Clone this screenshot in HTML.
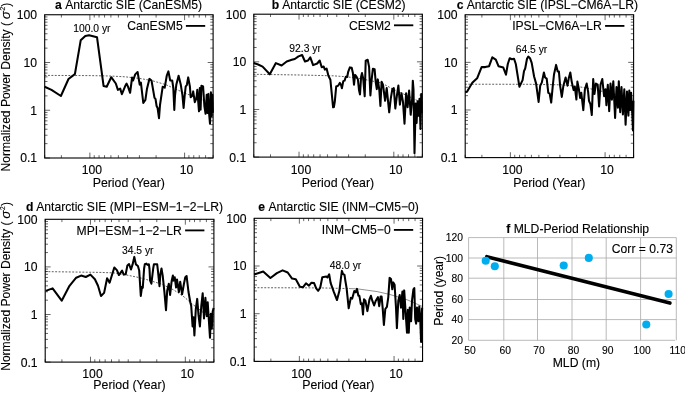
<!DOCTYPE html><html><head><meta charset="utf-8"><title>Figure</title><style>html,body{margin:0;padding:0;background:#fff}svg{display:block;will-change:transform}text{font-family:'Liberation Sans',sans-serif;fill:#000;stroke:#000;stroke-width:0.12px}</style></head><body>
<svg width="685" height="393" viewBox="0 0 685 393">
<rect width="685" height="393" fill="#fff"/>
<g>
<path d="M44.70 158.00h5.4 M213.10 158.00h-5.4 M44.70 143.63h2.8 M213.10 143.63h-2.8 M44.70 135.22h2.8 M213.10 135.22h-2.8 M44.70 129.25h2.8 M213.10 129.25h-2.8 M44.70 124.62h2.8 M213.10 124.62h-2.8 M44.70 120.84h2.8 M213.10 120.84h-2.8 M44.70 117.65h2.8 M213.10 117.65h-2.8 M44.70 114.88h2.8 M213.10 114.88h-2.8 M44.70 112.43h2.8 M213.10 112.43h-2.8 M44.70 110.25h5.4 M213.10 110.25h-5.4 M44.70 95.88h2.8 M213.10 95.88h-2.8 M44.70 87.47h2.8 M213.10 87.47h-2.8 M44.70 81.50h2.8 M213.10 81.50h-2.8 M44.70 76.87h2.8 M213.10 76.87h-2.8 M44.70 73.09h2.8 M213.10 73.09h-2.8 M44.70 69.90h2.8 M213.10 69.90h-2.8 M44.70 67.13h2.8 M213.10 67.13h-2.8 M44.70 64.68h2.8 M213.10 64.68h-2.8 M44.70 62.50h5.4 M213.10 62.50h-5.4 M44.70 48.13h2.8 M213.10 48.13h-2.8 M44.70 39.72h2.8 M213.10 39.72h-2.8 M44.70 33.75h2.8 M213.10 33.75h-2.8 M44.70 29.12h2.8 M213.10 29.12h-2.8 M44.70 25.34h2.8 M213.10 25.34h-2.8 M44.70 22.15h2.8 M213.10 22.15h-2.8 M44.70 19.38h2.8 M213.10 19.38h-2.8 M44.70 16.93h2.8 M213.10 16.93h-2.8 M213.10 158.00v-2.8 M213.10 14.75v2.8 M205.60 158.00v-2.8 M205.60 14.75v2.8 M199.26 158.00v-2.8 M199.26 14.75v2.8 M193.77 158.00v-2.8 M193.77 14.75v2.8 M188.92 158.00v-2.8 M188.92 14.75v2.8 M184.59 158.00v-5.4 M184.59 14.75v5.4 M156.08 158.00v-2.8 M156.08 14.75v2.8 M139.41 158.00v-2.8 M139.41 14.75v2.8 M127.57 158.00v-2.8 M127.57 14.75v2.8 M118.39 158.00v-2.8 M118.39 14.75v2.8 M110.90 158.00v-2.8 M110.90 14.75v2.8 M104.56 158.00v-2.8 M104.56 14.75v2.8 M99.06 158.00v-2.8 M99.06 14.75v2.8 M94.22 158.00v-2.8 M94.22 14.75v2.8 M89.89 158.00v-5.4 M89.89 14.75v5.4 M61.38 158.00v-2.8 M61.38 14.75v2.8 M44.70 158.00v-2.8 M44.70 14.75v2.8" stroke="#000" stroke-width="0.6" fill="none"/>
<path d="M44.6 75.4 L90.0 75.6 L110.0 76.0 L125.0 76.8 L140.0 78.5 L151.5 80.5 L165.7 84.6 L184.0 92.8 L200.0 99.0 L213.6 104.0" stroke="#2a2a2a" stroke-width="0.75" stroke-dasharray="1.9,1.5" fill="none"/>
<path d="M44.6 86.8 L51.5 89.9 L60.9 96.0 L68.5 79.0 L74.9 74.1 L80.7 40.3 L85.3 35.9 L89.1 35.2 L97.0 37.2 L103.6 86.1 L106.7 86.8 L111.2 77.2 L115.8 83.5 L117.9 89.9 L120.2 88.6 L121.9 94.2 L125.2 86.1 L126.6 83.6 L128.0 86.7 L130.1 92.8 L132.1 77.5 L133.1 80.5 L135.2 74.4 L137.6 72.0 L139.7 84.6 L140.9 82.6 L143.3 103.0 L145.4 99.9 L147.0 88.7 L149.4 78.9 L151.5 80.5 L154.5 97.9 L155.5 98.9 L156.6 106.0 L157.6 108.0 L159.0 118.2 L160.0 105.0 L162.7 86.7 L164.7 87.7 L166.8 75.5 L168.4 71.4 L170.2 80.5 L172.2 80.5 L173.3 87.7 L174.3 110.0 L175.0 95.6 L176.3 84.8 L178.6 75.7 L180.8 84.8 L182.4 94.8 L183.6 108.0 L184.6 96.4 L185.7 86.5 L186.9 84.8 L188.2 77.4 L189.9 86.5 L190.7 97.2 L192.4 95.6 L193.2 91.4 L194.8 102.2 L196.5 98.1 L197.3 89.8 L199.0 111.3 L199.8 88.1 L200.6 109.6 L201.4 85.7 L203.1 86.5 L204.4 106.3 L205.6 113.8 L206.7 94.8 L207.6 112.9 L208.4 93.9 L209.2 114.6 L210.0 123.7 L210.9 92.3 L211.7 116.2 L212.4 94.8 L212.9 112.9" stroke="#000" stroke-width="2.05" stroke-linejoin="round" stroke-linecap="butt" fill="none"/>
<rect x="44.70" y="14.75" width="168.40" height="143.25" fill="none" stroke="#000" stroke-width="1.1"/>
<text x="37.1" y="19.1" font-size="12.2" text-anchor="end">100</text>
<text x="37.1" y="66.9" font-size="12.2" text-anchor="end">10</text>
<text x="37.1" y="114.7" font-size="12.2" text-anchor="end">1</text>
<text x="37.1" y="162.4" font-size="12.2" text-anchor="end">0.1</text>
<text x="91.9" y="174.2" font-size="12.2" text-anchor="middle">100</text>
<text x="186.6" y="174.2" font-size="12.2" text-anchor="middle">10</text>
<text x="128.8" y="187.1" font-size="12.35" text-anchor="middle">Period (Year)</text>
<text x="55.0" y="8.6" font-size="12.15" font-weight="bold">a</text>
<text x="65.2" y="8.6" font-size="12.15">Antarctic SIE (CanESM5)</text>
<text x="182.7" y="30.1" font-size="12.15" text-anchor="end">CanESM5</text>
<path d="M185.9 25.9h19.3" stroke="#000" stroke-width="1.85"/>
<text x="91.9" y="32.4" font-size="10.3" text-anchor="middle">100.0 yr</text>
<path d="M253.80 157.10h5.4 M422.35 157.10h-5.4 M253.80 142.76h2.8 M422.35 142.76h-2.8 M253.80 134.37h2.8 M422.35 134.37h-2.8 M253.80 128.42h2.8 M422.35 128.42h-2.8 M253.80 123.81h2.8 M422.35 123.81h-2.8 M253.80 120.03h2.8 M422.35 120.03h-2.8 M253.80 116.85h2.8 M422.35 116.85h-2.8 M253.80 114.08h2.8 M422.35 114.08h-2.8 M253.80 111.65h2.8 M422.35 111.65h-2.8 M253.80 109.47h5.4 M422.35 109.47h-5.4 M253.80 95.13h2.8 M422.35 95.13h-2.8 M253.80 86.74h2.8 M422.35 86.74h-2.8 M253.80 80.79h2.8 M422.35 80.79h-2.8 M253.80 76.17h2.8 M422.35 76.17h-2.8 M253.80 72.40h2.8 M422.35 72.40h-2.8 M253.80 69.21h2.8 M422.35 69.21h-2.8 M253.80 66.45h2.8 M422.35 66.45h-2.8 M253.80 64.01h2.8 M422.35 64.01h-2.8 M253.80 61.83h5.4 M422.35 61.83h-5.4 M253.80 47.49h2.8 M422.35 47.49h-2.8 M253.80 39.11h2.8 M422.35 39.11h-2.8 M253.80 33.16h2.8 M422.35 33.16h-2.8 M253.80 28.54h2.8 M422.35 28.54h-2.8 M253.80 24.77h2.8 M422.35 24.77h-2.8 M253.80 21.58h2.8 M422.35 21.58h-2.8 M253.80 18.82h2.8 M422.35 18.82h-2.8 M253.80 16.38h2.8 M422.35 16.38h-2.8 M422.35 157.10v-2.8 M422.35 14.20v2.8 M414.84 157.10v-2.8 M414.84 14.20v2.8 M408.50 157.10v-2.8 M408.50 14.20v2.8 M403.00 157.10v-2.8 M403.00 14.20v2.8 M398.15 157.10v-2.8 M398.15 14.20v2.8 M393.82 157.10v-5.4 M393.82 14.20v5.4 M365.28 157.10v-2.8 M365.28 14.20v2.8 M348.59 157.10v-2.8 M348.59 14.20v2.8 M336.75 157.10v-2.8 M336.75 14.20v2.8 M327.56 157.10v-2.8 M327.56 14.20v2.8 M320.05 157.10v-2.8 M320.05 14.20v2.8 M313.71 157.10v-2.8 M313.71 14.20v2.8 M308.21 157.10v-2.8 M308.21 14.20v2.8 M303.36 157.10v-2.8 M303.36 14.20v2.8 M299.03 157.10v-5.4 M299.03 14.20v5.4 M270.49 157.10v-2.8 M270.49 14.20v2.8 M253.80 157.10v-2.8 M253.80 14.20v2.8" stroke="#000" stroke-width="0.6" fill="none"/>
<path d="M253.5 74.3 L300.0 75.0 L333.0 75.8 L345.5 76.7 L360.0 78.5 L381.6 83.0 L393.3 89.3 L410.0 97.0 L422.4 103.0" stroke="#2a2a2a" stroke-width="0.75" stroke-dasharray="1.9,1.5" fill="none"/>
<path d="M253.7 62.9 L258.1 64.5 L262.6 66.6 L269.8 74.3 L275.9 63.1 L281.6 65.5 L286.7 61.5 L291.8 59.8 L294.8 59.0 L298.5 56.4 L302.1 55.0 L305.0 61.5 L308.0 60.5 L310.3 57.4 L313.1 65.1 L317.2 63.5 L319.7 60.5 L321.7 67.2 L323.7 66.6 L324.9 69.6 L326.6 68.6 L328.4 75.7 L330.4 79.8 L333.1 107.3 L333.9 107.0 L334.8 101.6 L336.2 86.5 L338.3 85.6 L339.8 82.9 L341.0 84.7 L341.9 88.3 L343.3 81.1 L344.6 80.6 L345.8 76.7 L347.2 77.0 L348.1 72.2 L349.9 67.4 L351.7 67.8 L352.9 73.1 L354.0 84.7 L355.1 74.9 L356.5 76.7 L357.9 79.4 L359.0 90.0 L360.0 94.5 L361.1 76.7 L362.0 73.1 L363.2 78.5 L364.7 96.3 L365.7 60.7 L367.7 59.8 L369.1 66.9 L370.4 95.4 L371.6 80.2 L372.9 68.7 L374.6 69.2 L375.7 82.0 L376.8 89.1 L377.8 79.4 L379.3 90.0 L380.4 105.9 L381.6 81.7 L383.1 85.5 L385.1 100.8 L386.7 88.1 L389.2 112.3 L390.8 98.3 L392.3 89.3 L393.8 88.1 L395.3 108.5 L396.9 95.7 L398.4 85.5 L399.9 104.6 L401.5 93.2 L403.0 102.1 L404.5 123.8 L406.1 93.2 L407.6 107.2 L409.1 90.6 L410.7 114.8 L412.2 98.3 L412.8 80.7 L413.5 89.2 L414.5 153.2 L415.7 103.6 L416.6 123.0 L417.6 101.2 L418.6 115.7 L419.5 98.8 L420.5 129.0 L421.2 94.0 L421.8 113.3" stroke="#000" stroke-width="2.05" stroke-linejoin="round" stroke-linecap="butt" fill="none"/>
<rect x="253.80" y="14.20" width="168.55" height="142.90" fill="none" stroke="#000" stroke-width="1.1"/>
<text x="246.2" y="18.6" font-size="12.2" text-anchor="end">100</text>
<text x="246.2" y="66.2" font-size="12.2" text-anchor="end">10</text>
<text x="246.2" y="113.9" font-size="12.2" text-anchor="end">1</text>
<text x="246.2" y="161.5" font-size="12.2" text-anchor="end">0.1</text>
<text x="301.0" y="174.2" font-size="12.2" text-anchor="middle">100</text>
<text x="395.8" y="174.2" font-size="12.2" text-anchor="middle">10</text>
<text x="338.0" y="187.1" font-size="12.35" text-anchor="middle">Period (Year)</text>
<text x="271.7" y="9.0" font-size="12.15" font-weight="bold">b</text>
<text x="282.2" y="9.0" font-size="12.15">Antarctic SIE (CESM2)</text>
<text x="390.8" y="29.5" font-size="12.15" text-anchor="end">CESM2</text>
<path d="M394.0 25.3h19.3" stroke="#000" stroke-width="1.85"/>
<text x="305.1" y="51.7" font-size="10.3" text-anchor="middle">92.3 yr</text>
<path d="M465.20 157.60h5.4 M633.60 157.60h-5.4 M465.20 143.27h2.8 M633.60 143.27h-2.8 M465.20 134.88h2.8 M633.60 134.88h-2.8 M465.20 128.93h2.8 M633.60 128.93h-2.8 M465.20 124.32h2.8 M633.60 124.32h-2.8 M465.20 120.55h2.8 M633.60 120.55h-2.8 M465.20 117.36h2.8 M633.60 117.36h-2.8 M465.20 114.60h2.8 M633.60 114.60h-2.8 M465.20 112.16h2.8 M633.60 112.16h-2.8 M465.20 109.98h5.4 M633.60 109.98h-5.4 M465.20 95.65h2.8 M633.60 95.65h-2.8 M465.20 87.26h2.8 M633.60 87.26h-2.8 M465.20 81.32h2.8 M633.60 81.32h-2.8 M465.20 76.70h2.8 M633.60 76.70h-2.8 M465.20 72.93h2.8 M633.60 72.93h-2.8 M465.20 69.74h2.8 M633.60 69.74h-2.8 M465.20 66.98h2.8 M633.60 66.98h-2.8 M465.20 64.55h2.8 M633.60 64.55h-2.8 M465.20 62.37h5.4 M633.60 62.37h-5.4 M465.20 48.03h2.8 M633.60 48.03h-2.8 M465.20 39.65h2.8 M633.60 39.65h-2.8 M465.20 33.70h2.8 M633.60 33.70h-2.8 M465.20 29.08h2.8 M633.60 29.08h-2.8 M465.20 25.31h2.8 M633.60 25.31h-2.8 M465.20 22.13h2.8 M633.60 22.13h-2.8 M465.20 19.36h2.8 M633.60 19.36h-2.8 M465.20 16.93h2.8 M633.60 16.93h-2.8 M633.60 157.60v-2.8 M633.60 14.75v2.8 M626.10 157.60v-2.8 M626.10 14.75v2.8 M619.76 157.60v-2.8 M619.76 14.75v2.8 M614.27 157.60v-2.8 M614.27 14.75v2.8 M609.42 157.60v-2.8 M609.42 14.75v2.8 M605.09 157.60v-5.4 M605.09 14.75v5.4 M576.58 157.60v-2.8 M576.58 14.75v2.8 M559.91 157.60v-2.8 M559.91 14.75v2.8 M548.07 157.60v-2.8 M548.07 14.75v2.8 M538.89 157.60v-2.8 M538.89 14.75v2.8 M531.40 157.60v-2.8 M531.40 14.75v2.8 M525.06 157.60v-2.8 M525.06 14.75v2.8 M519.56 157.60v-2.8 M519.56 14.75v2.8 M514.72 157.60v-2.8 M514.72 14.75v2.8 M510.39 157.60v-5.4 M510.39 14.75v5.4 M481.88 157.60v-2.8 M481.88 14.75v2.8 M465.20 157.60v-2.8 M465.20 14.75v2.8" stroke="#000" stroke-width="0.6" fill="none"/>
<path d="M465.0 84.2 L530.0 84.3 L560.0 84.8 L575.0 86.0 L590.9 88.9 L610.0 93.0 L633.6 99.0" stroke="#2a2a2a" stroke-width="0.75" stroke-dasharray="1.9,1.5" fill="none"/>
<path d="M465.2 92.2 L467.0 91.7 L472.3 82.7 L477.1 78.3 L481.6 67.1 L485.2 67.1 L489.1 66.2 L492.3 57.3 L495.8 59.6 L498.5 66.2 L503.3 67.6 L506.0 74.7 L507.8 64.0 L509.7 58.2 L511.9 59.2 L514.0 58.7 L515.8 64.0 L519.4 86.7 L522.6 80.1 L524.0 71.2 L525.2 68.5 L527.0 58.7 L528.3 56.6 L530.0 58.2 L531.7 62.9 L534.1 76.5 L536.1 83.6 L538.6 101.9 L540.2 85.7 L541.8 82.6 L543.9 72.5 L545.1 77.5 L546.7 78.6 L548.3 92.8 L549.6 93.4 L551.2 102.6 L552.8 85.7 L554.0 74.5 L556.1 64.9 L557.7 71.4 L558.9 71.4 L560.1 85.7 L561.8 96.9 L563.4 85.7 L565.6 77.5 L567.5 85.7 L568.7 78.6 L570.3 72.5 L571.7 81.6 L573.6 90.1 L574.8 86.7 L576.4 99.5 L577.4 81.6 L578.8 88.7 L580.1 97.9 L581.3 92.8 L583.3 110.1 L584.9 89.3 L586.7 83.6 L588.1 91.6 L589.0 100.8 L590.4 104.2 L591.8 115.0 L593.2 79.0 L594.5 93.9 L595.9 83.6 L597.7 84.7 L599.1 106.5 L600.5 84.7 L602.3 79.0 L604.1 96.2 L605.5 89.3 L606.4 105.3 L607.8 84.7 L609.2 111.1 L610.5 83.6 L611.9 99.6 L613.3 81.3 L615.1 117.9 L616.5 87.0 L617.9 107.6 L618.8 81.3 L620.2 112.2 L621.5 87.0 L622.9 114.5 L624.3 89.3 L625.6 124.8 L627.0 91.6 L628.4 115.6 L629.3 90.5 L630.2 109.9 L631.1 92.8 L632.1 109.9 L633.0 130.5 L633.4 100.8" stroke="#000" stroke-width="2.05" stroke-linejoin="round" stroke-linecap="butt" fill="none"/>
<rect x="465.20" y="14.75" width="168.40" height="142.85" fill="none" stroke="#000" stroke-width="1.1"/>
<text x="457.6" y="19.1" font-size="12.2" text-anchor="end">100</text>
<text x="457.6" y="66.8" font-size="12.2" text-anchor="end">10</text>
<text x="457.6" y="114.4" font-size="12.2" text-anchor="end">1</text>
<text x="457.6" y="162.0" font-size="12.2" text-anchor="end">0.1</text>
<text x="512.4" y="174.2" font-size="12.2" text-anchor="middle">100</text>
<text x="607.1" y="174.2" font-size="12.2" text-anchor="middle">10</text>
<text x="549.3" y="187.1" font-size="12.35" text-anchor="middle">Period (Year)</text>
<text x="456.7" y="8.6" font-size="12.15" font-weight="bold">c</text>
<text x="466.7" y="8.6" font-size="12.15">Antarctic SIE (IPSL−CM6A−LR)</text>
<text x="601.9" y="30.1" font-size="12.15" text-anchor="end">IPSL−CM6A−LR</text>
<path d="M605.1 25.9h19.3" stroke="#000" stroke-width="1.85"/>
<text x="531.5" y="53.2" font-size="10.3" text-anchor="middle">64.5 yr</text>
<path d="M45.20 362.10h5.4 M213.90 362.10h-5.4 M45.20 347.77h2.8 M213.90 347.77h-2.8 M45.20 339.39h2.8 M213.90 339.39h-2.8 M45.20 333.44h2.8 M213.90 333.44h-2.8 M45.20 328.83h2.8 M213.90 328.83h-2.8 M45.20 325.06h2.8 M213.90 325.06h-2.8 M45.20 321.87h2.8 M213.90 321.87h-2.8 M45.20 319.11h2.8 M213.90 319.11h-2.8 M45.20 316.68h2.8 M213.90 316.68h-2.8 M45.20 314.50h5.4 M213.90 314.50h-5.4 M45.20 300.17h2.8 M213.90 300.17h-2.8 M45.20 291.79h2.8 M213.90 291.79h-2.8 M45.20 285.84h2.8 M213.90 285.84h-2.8 M45.20 281.23h2.8 M213.90 281.23h-2.8 M45.20 277.46h2.8 M213.90 277.46h-2.8 M45.20 274.27h2.8 M213.90 274.27h-2.8 M45.20 271.51h2.8 M213.90 271.51h-2.8 M45.20 269.08h2.8 M213.90 269.08h-2.8 M45.20 266.90h5.4 M213.90 266.90h-5.4 M45.20 252.57h2.8 M213.90 252.57h-2.8 M45.20 244.19h2.8 M213.90 244.19h-2.8 M45.20 238.24h2.8 M213.90 238.24h-2.8 M45.20 233.63h2.8 M213.90 233.63h-2.8 M45.20 229.86h2.8 M213.90 229.86h-2.8 M45.20 226.67h2.8 M213.90 226.67h-2.8 M45.20 223.91h2.8 M213.90 223.91h-2.8 M45.20 221.48h2.8 M213.90 221.48h-2.8 M213.90 362.10v-2.8 M213.90 219.30v2.8 M206.39 362.10v-2.8 M206.39 219.30v2.8 M200.04 362.10v-2.8 M200.04 219.30v2.8 M194.53 362.10v-2.8 M194.53 219.30v2.8 M189.68 362.10v-2.8 M189.68 219.30v2.8 M185.34 362.10v-5.4 M185.34 219.30v5.4 M156.78 362.10v-2.8 M156.78 219.30v2.8 M140.07 362.10v-2.8 M140.07 219.30v2.8 M128.22 362.10v-2.8 M128.22 219.30v2.8 M119.03 362.10v-2.8 M119.03 219.30v2.8 M111.51 362.10v-2.8 M111.51 219.30v2.8 M105.16 362.10v-2.8 M105.16 219.30v2.8 M99.66 362.10v-2.8 M99.66 219.30v2.8 M94.81 362.10v-2.8 M94.81 219.30v2.8 M90.47 362.10v-5.4 M90.47 219.30v5.4 M61.91 362.10v-2.8 M61.91 219.30v2.8 M45.20 362.10v-2.8 M45.20 219.30v2.8" stroke="#000" stroke-width="0.6" fill="none"/>
<path d="M45.0 271.6 L100.0 272.4 L114.0 272.9 L126.0 274.9 L138.3 277.4 L144.7 279.0 L161.2 284.0 L172.0 289.0 L177.8 292.5 L185.0 297.6 L190.3 302.5 L200.0 310.0 L213.8 321.0" stroke="#2a2a2a" stroke-width="0.75" stroke-dasharray="1.9,1.5" fill="none"/>
<path d="M45.7 290.9 L52.6 288.4 L61.7 300.7 L69.5 285.8 L76.2 277.7 L81.1 275.6 L85.8 277.0 L90.4 274.6 L94.9 279.3 L98.0 285.8 L101.0 296.0 L104.1 292.9 L107.1 278.3 L109.6 282.7 L114.3 267.5 L116.9 270.1 L118.9 275.0 L120.0 273.6 L122.1 270.5 L123.7 274.6 L125.7 274.2 L127.4 265.4 L129.0 264.0 L131.0 269.5 L132.6 264.4 L134.3 256.9 L135.9 264.4 L137.9 266.0 L139.2 270.5 L140.8 295.9 L142.0 286.8 L142.8 287.8 L144.1 268.5 L144.8 264.3 L146.4 263.6 L147.5 264.9 L148.9 264.3 L149.5 269.0 L150.1 280.7 L151.4 283.7 L153.2 268.5 L153.9 264.3 L157.2 264.3 L157.9 270.5 L159.5 286.2 L160.3 274.6 L161.5 268.5 L162.7 275.6 L164.4 291.9 L166.0 310.2 L167.2 290.8 L168.8 283.7 L170.1 294.9 L171.7 280.7 L172.9 275.6 L173.4 280.6 L174.7 277.2 L176.1 287.5 L177.0 279.5 L178.9 292.0 L180.2 281.7 L182.1 294.3 L183.9 284.0 L185.3 277.2 L186.6 276.0 L188.5 292.0 L190.3 302.3 L191.2 305.8 L192.6 326.4 L193.5 317.2 L194.4 335.5 L195.8 309.2 L197.2 298.9 L198.5 314.9 L199.9 326.4 L201.3 305.8 L202.7 293.2 L204.0 318.4 L205.4 297.8 L206.8 316.1 L207.7 302.3 L208.6 316.1 L210.0 337.8 L210.9 313.8 L211.8 328.6 L212.7 311.5 L213.6 308.0" stroke="#000" stroke-width="2.05" stroke-linejoin="round" stroke-linecap="butt" fill="none"/>
<rect x="45.20" y="219.30" width="168.70" height="142.80" fill="none" stroke="#000" stroke-width="1.1"/>
<text x="37.6" y="223.7" font-size="12.2" text-anchor="end">100</text>
<text x="37.6" y="271.3" font-size="12.2" text-anchor="end">10</text>
<text x="37.6" y="318.9" font-size="12.2" text-anchor="end">1</text>
<text x="37.6" y="366.5" font-size="12.2" text-anchor="end">0.1</text>
<text x="92.5" y="377.9" font-size="12.2" text-anchor="middle">100</text>
<text x="187.3" y="377.9" font-size="12.2" text-anchor="middle">10</text>
<text x="129.5" y="389.3" font-size="12.35" text-anchor="middle">Period (Year)</text>
<text x="26.0" y="211.1" font-size="12.15" font-weight="bold">d</text>
<text x="36.2" y="211.1" font-size="12.15">Antarctic SIE (MPI−ESM−1−2−LR)</text>
<text x="181.9" y="234.6" font-size="12.15" text-anchor="end">MPI−ESM−1−2−LR</text>
<path d="M185.1 230.4h19.3" stroke="#000" stroke-width="1.85"/>
<text x="137.8" y="253.6" font-size="10.3" text-anchor="middle">34.5 yr</text>
<path d="M254.20 361.40h5.4 M422.55 361.40h-5.4 M254.20 347.04h2.8 M422.55 347.04h-2.8 M254.20 338.64h2.8 M422.55 338.64h-2.8 M254.20 332.68h2.8 M422.55 332.68h-2.8 M254.20 328.06h2.8 M422.55 328.06h-2.8 M254.20 324.28h2.8 M422.55 324.28h-2.8 M254.20 321.09h2.8 M422.55 321.09h-2.8 M254.20 318.32h2.8 M422.55 318.32h-2.8 M254.20 315.88h2.8 M422.55 315.88h-2.8 M254.20 313.70h5.4 M422.55 313.70h-5.4 M254.20 299.34h2.8 M422.55 299.34h-2.8 M254.20 290.94h2.8 M422.55 290.94h-2.8 M254.20 284.98h2.8 M422.55 284.98h-2.8 M254.20 280.36h2.8 M422.55 280.36h-2.8 M254.20 276.58h2.8 M422.55 276.58h-2.8 M254.20 273.39h2.8 M422.55 273.39h-2.8 M254.20 270.62h2.8 M422.55 270.62h-2.8 M254.20 268.18h2.8 M422.55 268.18h-2.8 M254.20 266.00h5.4 M422.55 266.00h-5.4 M254.20 251.64h2.8 M422.55 251.64h-2.8 M254.20 243.24h2.8 M422.55 243.24h-2.8 M254.20 237.28h2.8 M422.55 237.28h-2.8 M254.20 232.66h2.8 M422.55 232.66h-2.8 M254.20 228.88h2.8 M422.55 228.88h-2.8 M254.20 225.69h2.8 M422.55 225.69h-2.8 M254.20 222.92h2.8 M422.55 222.92h-2.8 M254.20 220.48h2.8 M422.55 220.48h-2.8 M422.55 361.40v-2.8 M422.55 218.30v2.8 M415.05 361.40v-2.8 M415.05 218.30v2.8 M408.72 361.40v-2.8 M408.72 218.30v2.8 M403.22 361.40v-2.8 M403.22 218.30v2.8 M398.38 361.40v-2.8 M398.38 218.30v2.8 M394.05 361.40v-5.4 M394.05 218.30v5.4 M365.55 361.40v-2.8 M365.55 218.30v2.8 M348.88 361.40v-2.8 M348.88 218.30v2.8 M337.05 361.40v-2.8 M337.05 218.30v2.8 M327.87 361.40v-2.8 M327.87 218.30v2.8 M320.38 361.40v-2.8 M320.38 218.30v2.8 M314.04 361.40v-2.8 M314.04 218.30v2.8 M308.55 361.40v-2.8 M308.55 218.30v2.8 M303.70 361.40v-2.8 M303.70 218.30v2.8 M299.37 361.40v-5.4 M299.37 218.30v5.4 M270.87 361.40v-2.8 M270.87 218.30v2.8 M254.20 361.40v-2.8 M254.20 218.30v2.8" stroke="#000" stroke-width="0.6" fill="none"/>
<path d="M254.1 287.7 L320.0 287.9 L332.8 288.2 L350.0 288.6" stroke="#2a2a2a" stroke-width="0.75" stroke-dasharray="1.9,1.5" fill="none"/>
<path d="M350.0 288.6 L357.7 288.9 L377.2 291.6 L389.6 294.4 L407.7 300.0 L422.5 306.5" stroke="#333" stroke-width="0.55" fill="none"/>
<path d="M254.1 274.5 L263.2 271.5 L270.4 278.0 L276.9 273.1 L282.6 270.4 L287.7 272.5 L292.1 278.6 L295.8 279.2 L299.9 286.7 L302.9 287.3 L306.0 283.3 L309.0 285.7 L311.5 282.7 L314.1 283.1 L316.2 288.4 L318.2 290.8 L320.2 287.7 L322.3 277.2 L326.3 276.6 L327.4 277.5 L329.2 274.3 L330.6 282.8 L333.8 291.9 L337.0 300.0 L339.4 290.8 L340.7 280.0 L341.9 270.9 L342.9 273.9 L344.5 274.8 L345.4 281.0 L346.6 288.2 L348.7 308.3 L350.8 297.9 L352.2 298.6 L354.3 291.0 L355.7 292.3 L357.0 288.9 L358.4 295.8 L359.4 295.8 L360.8 304.1 L361.9 303.4 L363.0 314.5 L364.0 299.3 L365.4 300.7 L367.4 311.1 L369.5 299.3 L370.9 295.8 L372.3 300.7 L374.1 305.5 L375.8 300.7 L377.9 297.2 L379.2 306.2 L380.6 296.5 L381.6 296.5 L382.7 308.3 L383.9 325.0 L385.3 309.0 L386.9 306.9 L388.3 297.2 L389.6 277.9 L391.0 279.0 L392.3 289.3 L393.3 282.4 L394.6 284.7 L396.0 307.6 L396.9 328.1 L398.3 300.7 L399.7 295.0 L401.0 307.6 L402.4 291.6 L403.3 319.0 L404.2 290.4 L405.6 312.1 L407.0 332.7 L407.9 309.9 L408.8 332.7 L409.7 307.6 L411.1 321.3 L412.0 300.7 L413.4 289.3 L414.3 288.1 L415.2 319.0 L416.1 323.6 L417.0 307.6 L418.4 321.3 L419.3 306.4 L420.2 317.9 L421.1 341.9 L422.1 307.6" stroke="#000" stroke-width="2.05" stroke-linejoin="round" stroke-linecap="butt" fill="none"/>
<rect x="254.20" y="218.30" width="168.35" height="143.10" fill="none" stroke="#000" stroke-width="1.1"/>
<text x="246.6" y="222.7" font-size="12.2" text-anchor="end">100</text>
<text x="246.6" y="270.4" font-size="12.2" text-anchor="end">10</text>
<text x="246.6" y="318.1" font-size="12.2" text-anchor="end">1</text>
<text x="246.6" y="365.8" font-size="12.2" text-anchor="end">0.1</text>
<text x="301.4" y="377.9" font-size="12.2" text-anchor="middle">100</text>
<text x="396.0" y="377.9" font-size="12.2" text-anchor="middle">10</text>
<text x="338.3" y="389.3" font-size="12.35" text-anchor="middle">Period (Year)</text>
<text x="258.3" y="210.7" font-size="12.15" font-weight="bold">e</text>
<text x="268.4" y="210.7" font-size="12.15">Antarctic SIE (INM−CM5−0)</text>
<text x="390.7" y="234.1" font-size="12.15" text-anchor="end">INM−CM5−0</text>
<path d="M393.9 229.9h19.3" stroke="#000" stroke-width="1.85"/>
<text x="345.5" y="268.6" font-size="10.3" text-anchor="middle">48.0 yr</text>
<g transform="translate(10.1,170.5) rotate(-90)">
<text x="-0.9" y="0" font-size="12.05">Normalized Power Density (</text>
<text x="151.2" y="0" font-size="13.6" font-style="italic">σ</text>
<text x="160.0" y="-5.6" font-size="6.6">2</text>
<text x="163.8" y="0" font-size="12.05">)</text>
</g>
<g transform="translate(10.1,369.9) rotate(-90)">
<text x="-0.9" y="0" font-size="12.05">Normalized Power Density (</text>
<text x="151.2" y="0" font-size="13.6" font-style="italic">σ</text>
<text x="160.0" y="-5.6" font-size="6.6">2</text>
<text x="163.8" y="0" font-size="12.05">)</text>
</g>
<path d="M468.60 237.60H676.30 M468.60 258.00H676.30 M468.60 278.20H676.30 M468.60 299.50H676.30 M468.60 319.60H676.30 M468.60 340.30H675.10 M468.60 237.60V340.30 M503.80 237.60V340.30 M537.50 237.60V340.30 M572.00 237.60V340.30 M606.20 237.60V340.30 M640.60 237.60V340.30 M676.30 237.60V340.30" stroke="#a8a8a8" stroke-width="0.8" fill="none"/>
<text x="462.9" y="241.2" font-size="10.3" text-anchor="end">120</text>
<text x="462.9" y="261.6" font-size="10.3" text-anchor="end">100</text>
<text x="462.9" y="281.8" font-size="10.3" text-anchor="end">80</text>
<text x="462.9" y="303.1" font-size="10.3" text-anchor="end">60</text>
<text x="462.9" y="323.2" font-size="10.3" text-anchor="end">40</text>
<text x="462.9" y="343.9" font-size="10.3" text-anchor="end">20</text>
<text x="470.1" y="353.7" font-size="10.3" text-anchor="middle">50</text>
<text x="505.3" y="353.7" font-size="10.3" text-anchor="middle">60</text>
<text x="539.0" y="353.7" font-size="10.3" text-anchor="middle">70</text>
<text x="573.5" y="353.7" font-size="10.3" text-anchor="middle">80</text>
<text x="607.7" y="353.7" font-size="10.3" text-anchor="middle">90</text>
<text x="642.1" y="353.7" font-size="10.3" text-anchor="middle">100</text>
<text x="677.8" y="353.7" font-size="10.3" text-anchor="middle">110</text>
<path d="M486.8 256.7L669.9 303.1" stroke="#000" stroke-width="3.6" stroke-linecap="round"/>
<circle cx="485.7" cy="260.8" r="4.05" fill="#00aeef"/>
<circle cx="494.8" cy="266.2" r="4.05" fill="#00aeef"/>
<circle cx="563.7" cy="265.5" r="4.05" fill="#00aeef"/>
<circle cx="588.8" cy="257.9" r="4.05" fill="#00aeef"/>
<circle cx="668.6" cy="294.0" r="4.05" fill="#00aeef"/>
<circle cx="646.3" cy="324.5" r="4.05" fill="#00aeef"/>
<text x="672.9" y="252.8" font-size="12.15" text-anchor="end">Corr = 0.73</text>
<text x="577.7" y="233" font-size="12.2" text-anchor="middle"><tspan font-weight="bold">f</tspan> MLD-Period Relationship</text>
<text x="576.4" y="366.6" font-size="12.2" text-anchor="middle">MLD (m)</text>
<text transform="translate(442.8,290.8) rotate(-90)" font-size="12.1" text-anchor="middle">Period (year)</text>
</g>
</svg></body></html>
